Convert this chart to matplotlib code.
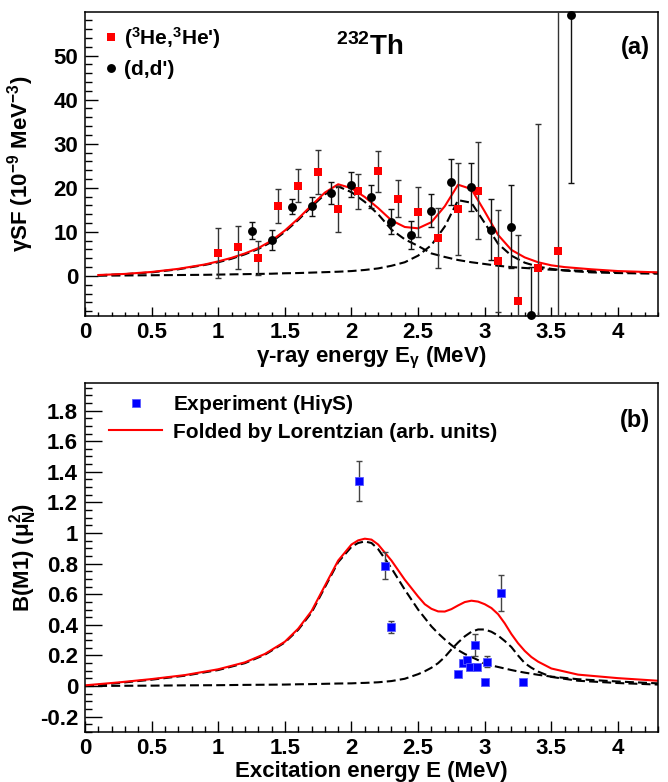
import numpy as np
import matplotlib
matplotlib.use('Agg')
import matplotlib.pyplot as plt
from matplotlib.ticker import MultipleLocator, FuncFormatter

# ---------------- panel (a): gamma strength function, 232Th ----------------
he3_energy = [1.00, 1.15, 1.30, 1.45, 1.60, 1.75, 1.90, 2.05, 2.20, 2.35,
              2.50, 2.65, 2.80, 2.95, 3.10, 3.25, 3.40, 3.55]
he3_sf = [5.2, 6.5, 4.0, 15.9, 20.5, 23.6, 15.2, 19.2, 23.7, 17.5,
          14.5, 8.6, 15.2, 19.3, 3.3, -5.8, 1.9, 5.7]
he3_err = [5.6, 4.9, 3.9, 3.8, 3.7, 4.9, 5.2, 4.0, 4.6, 4.2,
           5.6, 6.9, 10.4, 11.0, 11.6, 15.0, 32.5, 70.0]

dd_energy = [1.25, 1.40, 1.55, 1.70, 1.85, 2.00, 2.15, 2.30, 2.45, 2.60,
             2.75, 2.90, 3.05, 3.20, 3.35, 3.65]
dd_sf = [10.3, 8.2, 15.7, 15.8, 18.8, 20.7, 18.0, 12.3, 9.3, 14.8,
         21.4, 20.2, 10.5, 11.2, -8.9, 59.3]
dd_err = [2.0, 2.3, 1.7, 2.2, 2.4, 2.9, 2.6, 2.8, 3.2, 3.7,
          5.2, 5.4, 6.9, 9.5, 11.0, 38.2]

# Lorentzian fit curves
fit_energy_a = [0.1, 0.3, 0.5, 0.7, 0.9, 1.0, 1.1, 1.2, 1.3, 1.4,
                1.5, 1.6, 1.7, 1.8, 1.9, 2.0, 2.1, 2.2, 2.3, 2.4,
                2.5, 2.6, 2.7, 2.8, 2.9, 3.0, 3.1, 3.2, 3.3, 3.4,
                3.5, 3.6, 3.8, 4.0, 4.3]
fit_sum_a = [0.2, 0.45, 0.9, 1.6, 2.6, 3.3, 4.1, 5.1, 6.3, 8.0,
             10.3, 13.0, 16.0, 18.9, 20.8, 19.9, 17.9, 15.4, 12.6, 11.1,
             10.8, 12.2, 15.8, 20.7, 19.7, 14.6, 9.3, 5.9, 4.2, 3.1,
             2.4, 2.0, 1.5, 1.1, 0.8]
fit_low_a = [0.15, 0.4, 0.8, 1.5, 2.5, 3.1, 3.9, 4.9, 6.1, 7.7,
             10.0, 12.7, 15.7, 18.5, 20.3, 19.0, 16.8, 14.0, 10.5, 8.3,
             6.8, 5.1, 4.3, 3.6, 3.1, 2.7, 2.3, 2.0, 1.8, 1.6,
             1.4, 1.3, 1.1, 0.9, 0.7]
fit_high_a = [0.05, 0.1, 0.15, 0.2, 0.25, 0.3, 0.35, 0.4, 0.45, 0.5,
              0.6, 0.65, 0.75, 0.85, 0.95, 1.1, 1.35, 1.7, 2.3, 3.1,
              4.6, 7.0, 11.2, 17.2, 16.6, 12.0, 7.3, 4.6, 3.0, 2.1,
              1.6, 1.2, 0.8, 0.65, 0.5]

# ---------------- panel (b): B(M1) strengths from HIgS ----------------
higs_energy = [2.056, 2.25, 2.30, 2.80, 2.84, 2.87, 2.89, 2.93, 2.94, 3.00,
               3.02, 3.12, 3.29]
higs_bm1 = [1.339, 0.787, 0.387, 0.080, 0.150, 0.170, 0.123, 0.268, 0.122, 0.027,
            0.160, 0.608, 0.027]
higs_err = [0.13, 0.088, 0.04, 0.01, 0.015, 0.015, 0.01, 0.07, 0.01, 0.005,
            0.037, 0.12, 0.005]

fold_energy_b = [0.0, 0.25, 0.5, 0.75, 1.0, 1.2, 1.35, 1.5, 1.6, 1.7,
                 1.8, 1.9, 2.0, 2.05, 2.1, 2.15, 2.2, 2.3, 2.4, 2.5,
                 2.55, 2.6, 2.65, 2.7, 2.75, 2.8, 2.85, 2.9, 2.95, 3.0,
                 3.05, 3.1, 3.15, 3.2, 3.25, 3.3, 3.35, 3.4, 3.5, 3.7,
                 4.0, 4.3]
fold_sum_b = [0.005, 0.024, 0.046, 0.072, 0.11, 0.155, 0.21, 0.29, 0.375, 0.49,
              0.655, 0.82, 0.925, 0.952, 0.963, 0.957, 0.925, 0.82, 0.695, 0.585,
              0.535, 0.505, 0.488, 0.487, 0.503, 0.527, 0.549, 0.558, 0.552, 0.535,
              0.51, 0.47, 0.41, 0.34, 0.28, 0.23, 0.19, 0.16, 0.115, 0.075,
              0.052, 0.035]
fold_low_b = [0.0, 0.02, 0.042, 0.068, 0.105, 0.15, 0.205, 0.285, 0.368, 0.48,
              0.645, 0.81, 0.91, 0.935, 0.945, 0.935, 0.895, 0.77, 0.63, 0.5,
              0.445, 0.39, 0.345, 0.305, 0.268, 0.235, 0.21, 0.19, 0.17, 0.145,
              0.135, 0.125, 0.115, 0.105, 0.096, 0.088, 0.081, 0.074, 0.062, 0.045,
              0.03, 0.018]
fold_high_b = [0.0, 0.002, 0.003, 0.005, 0.006, 0.008, 0.009, 0.01, 0.012, 0.013,
               0.015, 0.017, 0.018, 0.02, 0.021, 0.023, 0.025, 0.033, 0.048, 0.078,
               0.097, 0.12, 0.15, 0.19, 0.24, 0.285, 0.325, 0.355, 0.37, 0.37,
               0.355, 0.33, 0.295, 0.255, 0.2, 0.15, 0.12, 0.095, 0.06, 0.035,
               0.02, 0.01]

plt.rcParams['font.family'] = ['Liberation Sans', 'DejaVu Sans']
plt.rcParams['font.weight'] = 'bold'
plt.rcParams['axes.labelweight'] = 'bold'
plt.rcParams['mathtext.fontset'] = 'custom'
plt.rcParams['mathtext.rm'] = 'Liberation Sans:bold'
plt.rcParams['mathtext.bf'] = 'Liberation Sans:bold'
plt.rcParams['mathtext.it'] = 'Liberation Sans'
plt.rcParams['mathtext.default'] = 'rm'
plt.rcParams['axes.unicode_minus'] = False

DASH = (0, (4.3, 2.0))


def plain_number(v, pos):
    return f'{round(v, 6) + 0.0:g}'


def style_axis(ax, ymajor, yminor, ylen, xlen):
    ax.set_xlim(0, 4.3)
    ax.xaxis.set_major_locator(MultipleLocator(0.5))
    ax.xaxis.set_minor_locator(MultipleLocator(0.1))
    ax.yaxis.set_major_locator(MultipleLocator(ymajor))
    ax.yaxis.set_minor_locator(MultipleLocator(yminor))
    ax.xaxis.set_major_formatter(FuncFormatter(plain_number))
    ax.yaxis.set_major_formatter(FuncFormatter(plain_number))
    ax.tick_params(which='both', direction='in', top=False, right=False,
                   width=1.0, labelsize=16)
    ax.tick_params(axis='x', which='major', length=xlen[0], pad=4)
    ax.tick_params(axis='x', which='minor', length=xlen[1])
    ax.tick_params(axis='y', which='major', length=ylen[0], pad=5)
    ax.tick_params(axis='y', which='minor', length=ylen[1])
    for lab in ax.get_xticklabels() + ax.get_yticklabels():
        lab.set_fontweight('bold')
    for sp in ax.spines.values():
        sp.set_linewidth(1.1)


fig = plt.figure(figsize=(6.68, 7.82), dpi=100)
ax_a = fig.add_axes([0.1272, 0.5959, 0.8578, 0.3888])
ax_b = fig.add_axes([0.1272, 0.0639, 0.8578, 0.4463])

# ---- panel (a)
ax_a.plot(fit_energy_a, fit_low_a, color='black', lw=1.5, ls=DASH, zorder=2)
ax_a.plot(fit_energy_a, fit_high_a, color='black', lw=1.5, ls=DASH, zorder=2)
ax_a.plot(fit_energy_a, fit_sum_a, color='red', lw=1.5, zorder=2)

ax_a.errorbar(he3_energy, he3_sf, yerr=he3_err, fmt='none', ecolor='#333333',
              elinewidth=1.0, capsize=2, capthick=1.0, zorder=3)
ax_a.errorbar(dd_energy, dd_sf, yerr=dd_err, fmt='none', ecolor='#111111',
              elinewidth=1.0, capsize=2, capthick=1.0, zorder=3)
he3_pts, = ax_a.plot(he3_energy, he3_sf, 's', color='red', ms=6.2, mew=0,
                     clip_on=False, zorder=4)
dd_pts, = ax_a.plot(dd_energy, dd_sf, 'o', color='black', ms=6.4, mew=0,
                    clip_on=False, zorder=4)

ax_a.set_ylim(-9.1, 59.9)
style_axis(ax_a, 10, 2, (9.5, 5), (6.5, 3.2))
ax_a.set_xlabel(r'$\mathit{\gamma}$-ray energy E$_{\mathit{\gamma}}$ (MeV)', fontsize=16)
ax_a.xaxis.set_label_coords(0.5, -0.095)
ax_a.set_ylabel(r'$\mathit{\gamma}$SF (10$^{-9}$ MeV$^{-3}$)', fontsize=16)
ax_a.yaxis.set_label_coords(-0.085, 0.5)

ax_a.legend([he3_pts, dd_pts], ["(${}^{3}$He,${}^{3}$He')", "(d,d')"],
            loc='upper left', bbox_to_anchor=(0.031, 0.957), frameon=False,
            fontsize=15, handlelength=0.8, handletextpad=0.2, borderpad=0,
            borderaxespad=0, labelspacing=0.45)
ax_a.text(0.497, 0.8586, '$^{232}$Th', transform=ax_a.transAxes,
          fontsize=20, ha='center', va='baseline')
ax_a.text(0.986, 0.8816, '(a)', transform=ax_a.transAxes,
          fontsize=17, ha='right', va='center')

# ---- panel (b)
ax_b.plot(fold_energy_b, fold_low_b, color='black', lw=1.5, ls=DASH, zorder=2)
ax_b.plot(fold_energy_b, fold_high_b, color='black', lw=1.5, ls=DASH, zorder=2)
fold_line, = ax_b.plot(fold_energy_b, fold_sum_b, color='red', lw=1.5, zorder=2)

ax_b.errorbar(higs_energy, higs_bm1, yerr=higs_err, fmt='none', ecolor='#444444',
              elinewidth=1.0, capsize=2, capthick=1.0, zorder=3)
higs_pts, = ax_b.plot(higs_energy, higs_bm1, 's', color='#0000ff', ms=6.3,
                      mec='#5a5aff', mew=0.6, zorder=4)

ax_b.set_ylim(-0.3, 1.98)
style_axis(ax_b, 0.2, 0.05, (12, 5.3), (8, 4.3))
ax_b.set_xlabel('Excitation energy E (MeV)', fontsize=16)
ax_b.xaxis.set_label_coords(0.5, -0.082)
ax_b.set_ylabel(r'B(M1) ($\mathit{\mu}_{N}^{2}$)', fontsize=16)
ax_b.yaxis.set_label_coords(-0.08, 0.5)

ax_b.legend([higs_pts, fold_line],
            [r'Experiment (Hi$\mathit{\gamma}$S)', 'Folded by Lorentzian (arb. units)'],
            loc='upper left', bbox_to_anchor=(0.042, 0.970), frameon=False,
            fontsize=15, handlelength=2.55, handletextpad=0.53, borderpad=0,
            borderaxespad=0, labelspacing=0.3)
ax_b.text(0.986, 0.894, '(b)', transform=ax_b.transAxes,
          fontsize=17, ha='right', va='center')

fig.savefig('out.png', dpi=100)
